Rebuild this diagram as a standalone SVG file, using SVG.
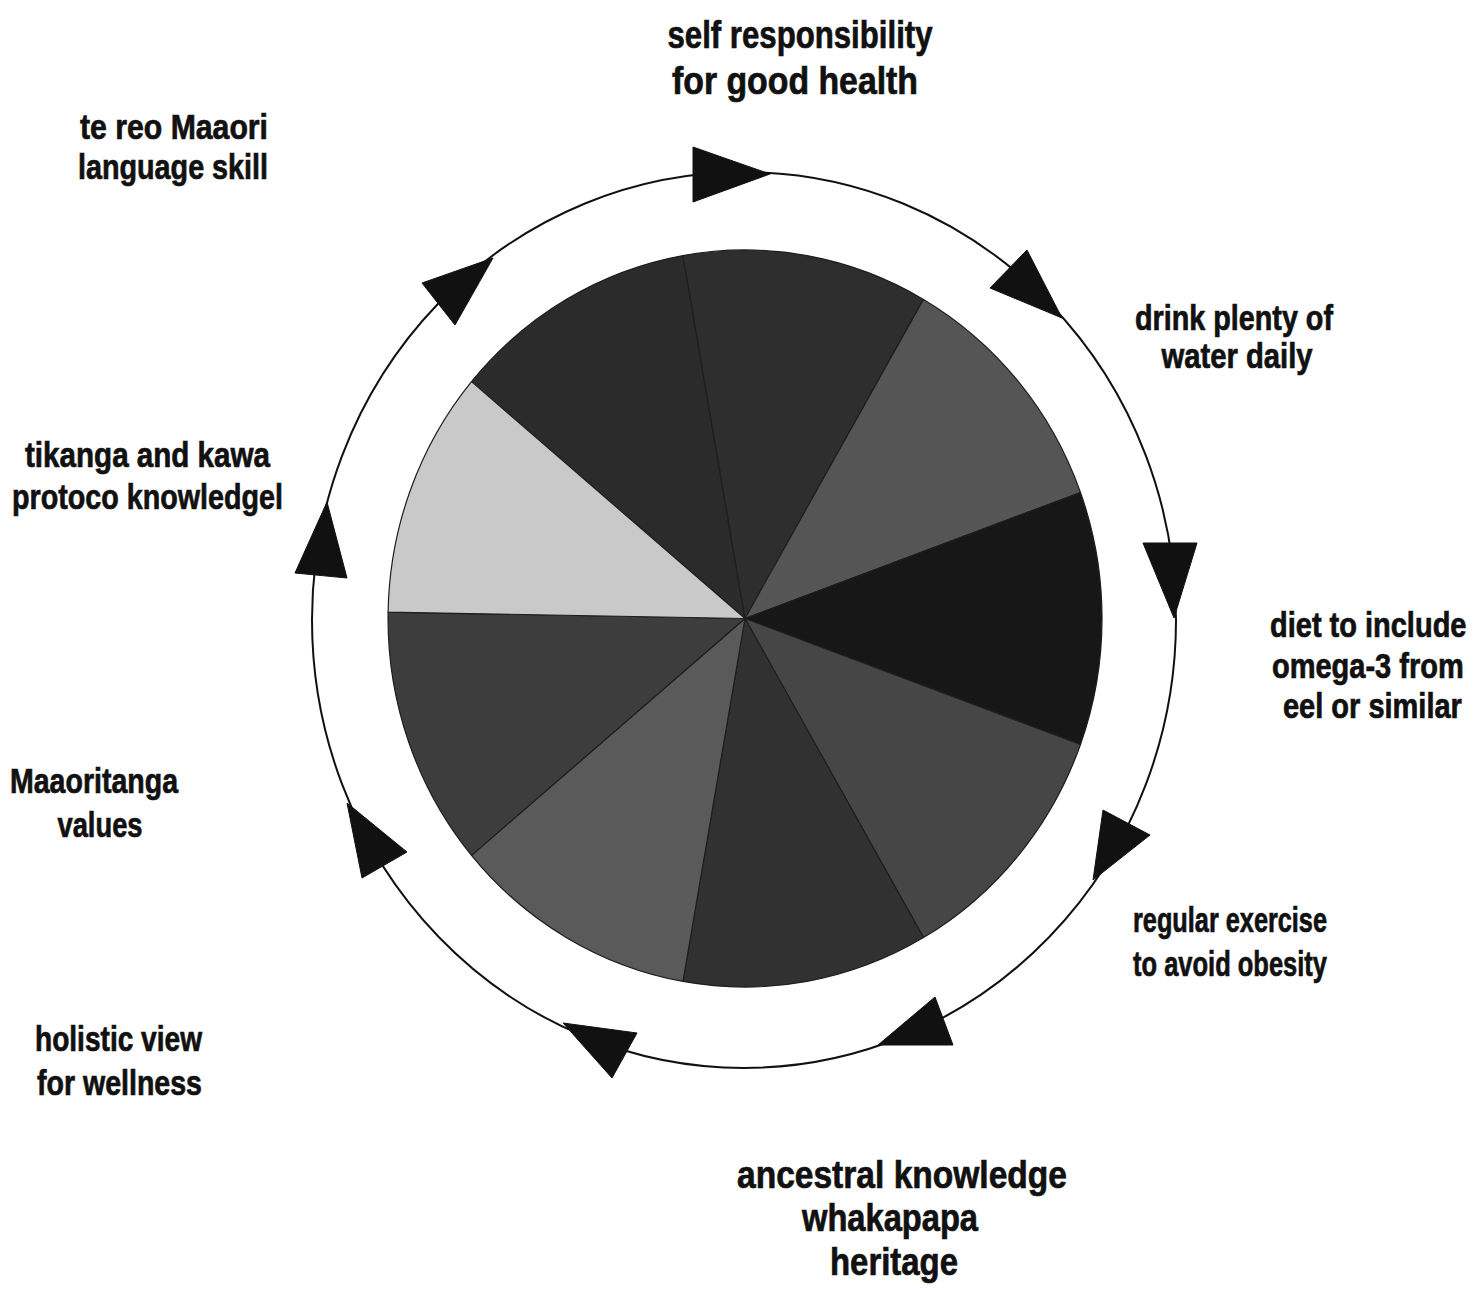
<svg xmlns="http://www.w3.org/2000/svg" width="1476" height="1292" viewBox="0 0 1476 1292">
<style>
.lbl{font-family:"Liberation Sans",Arial,sans-serif;font-weight:bold;font-size:35px;fill:#111;stroke:#111;stroke-width:0.7;text-anchor:middle}
.big{font-size:38px}
.st{text-anchor:start;font-size:29px;stroke-width:0.6}
.sl{stroke:#1e1e1e;stroke-width:1.2;stroke-linejoin:round}
.ring{fill:none;stroke:#111;stroke-width:2}
.ah{fill:#111;stroke:#111;stroke-width:1;stroke-linejoin:round}
</style>
<rect width="1476" height="1292" fill="#fff"/>
<g id="pie">
<path class="sl" fill="#2b2b2b" d="M745,618.5 L471.5,381.6 A357,368.5 0 0 1 683,255.6 Z"/>
<path class="sl" fill="#2e2e2e" d="M745,618.5 L683,255.6 A357,368.5 0 0 1 923.5,299.4 Z"/>
<path class="sl" fill="#555555" d="M745,618.5 L923.5,299.4 A357,368.5 0 0 1 1080.5,492.5 Z"/>
<path class="sl" fill="#171717" d="M745,618.5 L1080.5,492.5 A357,368.5 0 0 1 1080.5,744.5 Z"/>
<path class="sl" fill="#464646" d="M745,618.5 L1080.5,744.5 A357,368.5 0 0 1 923.5,937.6 Z"/>
<path class="sl" fill="#313131" d="M745,618.5 L923.5,937.6 A357,368.5 0 0 1 683,981.4 Z"/>
<path class="sl" fill="#5a5a5a" d="M745,618.5 L683,981.4 A357,368.5 0 0 1 471.5,855.4 Z"/>
<path class="sl" fill="#3d3d3d" d="M745,618.5 L471.5,855.4 A357,368.5 0 0 1 388.1,612.1 Z"/>
<path class="sl" fill="#c9c9c9" d="M745,618.5 L388.1,612.1 A357,368.5 0 0 1 471.5,381.6 Z"/>
</g>
<g id="connectors">
<ellipse class="ring" cx="744" cy="620" rx="432" ry="448"/>
<polygon class="ah" points="693,147 693,202 770,174"/>
<polygon class="ah" points="1027,250 990,288 1062,318"/>
<polygon class="ah" points="1143,543 1197,543 1174,618"/>
<polygon class="ah" points="1103,810 1150,835 1093,880"/>
<polygon class="ah" points="935,997 953,1045 878,1045"/>
<polygon class="ah" points="563,1023 637,1033 612,1078"/>
<polygon class="ah" points="347,803 407,852 362,878"/>
<polygon class="ah" points="327,502 295,573 347,578"/>
<polygon class="ah" points="493,258 422,283 455,325"/>
</g>
<g id="label-self">
<text class="lbl big" x="800" y="48" textLength="265" lengthAdjust="spacingAndGlyphs">self responsibility</text>
<text class="lbl big" x="795" y="94" textLength="246" lengthAdjust="spacingAndGlyphs">for good health</text>
</g>
<g id="label-water">
<text class="lbl" x="1234" y="330" textLength="198" lengthAdjust="spacingAndGlyphs">drink plenty of</text>
<text class="lbl" x="1237" y="368" textLength="151" lengthAdjust="spacingAndGlyphs">water daily</text>
</g>
<g id="label-diet">
<g transform="translate(1270,637) scale(1,1.2)"><text class="lbl st" x="0" y="0">diet to include</text></g>
<g transform="translate(1272,678) scale(1,1.2)"><text class="lbl st" x="0" y="0">omega-3 from</text></g>
<g transform="translate(1283,718) scale(1,1.2)"><text class="lbl st" x="0" y="0">eel or similar</text></g>
</g>
<g id="label-exercise">
<text class="lbl" x="1230" y="932" textLength="194" lengthAdjust="spacingAndGlyphs">regular exercise</text>
<text class="lbl" x="1230" y="976" textLength="194" lengthAdjust="spacingAndGlyphs">to avoid obesity</text>
</g>
<g id="label-ancestral">
<text class="lbl big" x="902" y="1188" textLength="330" lengthAdjust="spacingAndGlyphs">ancestral knowledge</text>
<text class="lbl big" x="890" y="1231" textLength="176" lengthAdjust="spacingAndGlyphs">whakapapa</text>
<text class="lbl big" x="894" y="1275" textLength="128" lengthAdjust="spacingAndGlyphs">heritage</text>
</g>
<g id="label-holistic">
<text class="lbl" x="118.5" y="1051" textLength="167" lengthAdjust="spacingAndGlyphs">holistic view</text>
<text class="lbl" x="119.5" y="1095" textLength="165" lengthAdjust="spacingAndGlyphs">for wellness</text>
</g>
<g id="label-maaoritanga">
<text class="lbl" x="94" y="793" textLength="168" lengthAdjust="spacingAndGlyphs">Maaoritanga</text>
<text class="lbl" x="100" y="837" textLength="85" lengthAdjust="spacingAndGlyphs">values</text>
</g>
<g id="label-tikanga">
<text class="lbl" x="147.5" y="467" textLength="245" lengthAdjust="spacingAndGlyphs">tikanga and kawa</text>
<text class="lbl" x="147.5" y="509" textLength="271" lengthAdjust="spacingAndGlyphs">protoco knowledgel</text>
</g>
<g id="label-tereo">
<text class="lbl" x="174" y="139" textLength="188" lengthAdjust="spacingAndGlyphs">te reo Maaori</text>
<text class="lbl" x="173" y="179" textLength="190" lengthAdjust="spacingAndGlyphs">language skill</text>
</g>
</svg>
